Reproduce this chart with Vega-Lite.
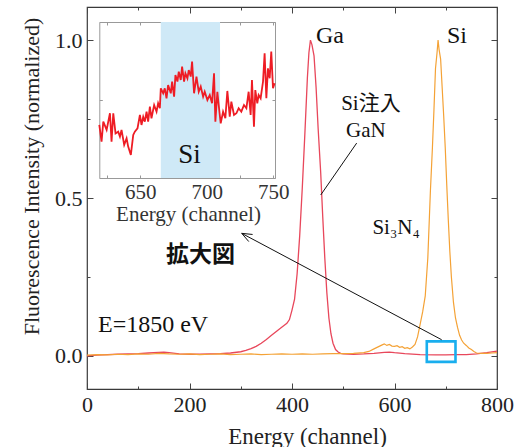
{
  "$schema": "https://vega.github.io/schema/vega-lite/v6.json",
  "width": 410,
  "height": 382,
  "autosize": {"type": "none"},
  "padding": {"left": 87, "top": 7, "right": 28, "bottom": 58},
  "background": "white",
  "config": {
    "font": "Liberation Serif",
    "view": {"stroke": "#3a3a3a", "strokeWidth": 1.2},
    "axis": {"grid": false, "domain": false, "labelFlush": false, "tickColor": "#444", "tickWidth": 1, "labelColor": "#222", "titleColor": "#222", "labelFont": "Liberation Serif", "titleFont": "Liberation Serif", "titleFontWeight": "normal"}
  },
  "datasets": {
    "gan": [
      {"ch": 0, "v": 0.0}, {"ch": 20, "v": 0.002}, {"ch": 40, "v": 0.004}, {"ch": 60, "v": 0.005}, {"ch": 80, "v": 0.006},
      {"ch": 100, "v": 0.007}, {"ch": 120, "v": 0.009}, {"ch": 140, "v": 0.011}, {"ch": 150, "v": 0.012}, {"ch": 160, "v": 0.010},
      {"ch": 180, "v": 0.006}, {"ch": 200, "v": 0.005}, {"ch": 220, "v": 0.005}, {"ch": 240, "v": 0.006}, {"ch": 260, "v": 0.007},
      {"ch": 280, "v": 0.009}, {"ch": 300, "v": 0.013}, {"ch": 310, "v": 0.017}, {"ch": 320, "v": 0.023}, {"ch": 330, "v": 0.030},
      {"ch": 340, "v": 0.040}, {"ch": 350, "v": 0.052}, {"ch": 360, "v": 0.065}, {"ch": 370, "v": 0.078}, {"ch": 378, "v": 0.088},
      {"ch": 385, "v": 0.097}, {"ch": 390, "v": 0.103}, {"ch": 395, "v": 0.115}, {"ch": 400, "v": 0.145}, {"ch": 405, "v": 0.18},
      {"ch": 410, "v": 0.26}, {"ch": 415, "v": 0.38}, {"ch": 420, "v": 0.53}, {"ch": 425, "v": 0.70}, {"ch": 430, "v": 0.88},
      {"ch": 433, "v": 0.96}, {"ch": 436, "v": 1.0}, {"ch": 439, "v": 0.985}, {"ch": 443, "v": 0.95}, {"ch": 447, "v": 0.85},
      {"ch": 451, "v": 0.72}, {"ch": 456, "v": 0.58}, {"ch": 460, "v": 0.44}, {"ch": 464, "v": 0.31}, {"ch": 468, "v": 0.20},
      {"ch": 472, "v": 0.12}, {"ch": 476, "v": 0.07}, {"ch": 480, "v": 0.04}, {"ch": 485, "v": 0.02}, {"ch": 490, "v": 0.012},
      {"ch": 495, "v": 0.008}, {"ch": 500, "v": 0.006}, {"ch": 520, "v": 0.005}, {"ch": 540, "v": 0.006}, {"ch": 560, "v": 0.008},
      {"ch": 580, "v": 0.011}, {"ch": 590, "v": 0.012}, {"ch": 600, "v": 0.010}, {"ch": 620, "v": 0.007}, {"ch": 650, "v": 0.004},
      {"ch": 680, "v": 0.003}, {"ch": 700, "v": 0.003}, {"ch": 720, "v": 0.004}, {"ch": 740, "v": 0.004}, {"ch": 760, "v": 0.006},
      {"ch": 780, "v": 0.010}, {"ch": 800, "v": 0.015}
    ],
    "si3n4": [
      {"ch": 0, "v": 0.002}, {"ch": 20, "v": 0.004}, {"ch": 40, "v": 0.003}, {"ch": 60, "v": 0.005}, {"ch": 80, "v": 0.004},
      {"ch": 100, "v": 0.006}, {"ch": 120, "v": 0.005}, {"ch": 140, "v": 0.008}, {"ch": 160, "v": 0.006}, {"ch": 180, "v": 0.005},
      {"ch": 200, "v": 0.006}, {"ch": 220, "v": 0.004}, {"ch": 240, "v": 0.005}, {"ch": 260, "v": 0.006}, {"ch": 280, "v": 0.004},
      {"ch": 300, "v": 0.005}, {"ch": 320, "v": 0.006}, {"ch": 340, "v": 0.004}, {"ch": 360, "v": 0.005}, {"ch": 380, "v": 0.006},
      {"ch": 400, "v": 0.005}, {"ch": 420, "v": 0.006}, {"ch": 440, "v": 0.005}, {"ch": 460, "v": 0.006}, {"ch": 480, "v": 0.007},
      {"ch": 500, "v": 0.007}, {"ch": 520, "v": 0.008}, {"ch": 540, "v": 0.010}, {"ch": 550, "v": 0.014}, {"ch": 560, "v": 0.022},
      {"ch": 570, "v": 0.030}, {"ch": 575, "v": 0.034}, {"ch": 580, "v": 0.038}, {"ch": 585, "v": 0.033}, {"ch": 590, "v": 0.036},
      {"ch": 595, "v": 0.031}, {"ch": 600, "v": 0.030}, {"ch": 605, "v": 0.032}, {"ch": 610, "v": 0.027}, {"ch": 615, "v": 0.029},
      {"ch": 620, "v": 0.024}, {"ch": 625, "v": 0.026}, {"ch": 630, "v": 0.022}, {"ch": 635, "v": 0.028}, {"ch": 640, "v": 0.036},
      {"ch": 645, "v": 0.06}, {"ch": 650, "v": 0.10}, {"ch": 655, "v": 0.14}, {"ch": 660, "v": 0.19}, {"ch": 665, "v": 0.31},
      {"ch": 670, "v": 0.52}, {"ch": 674, "v": 0.66}, {"ch": 677, "v": 0.78}, {"ch": 680, "v": 0.91}, {"ch": 683, "v": 0.96},
      {"ch": 685, "v": 1.0}, {"ch": 687, "v": 0.97}, {"ch": 690, "v": 0.94}, {"ch": 693, "v": 0.85}, {"ch": 696, "v": 0.76},
      {"ch": 699, "v": 0.66}, {"ch": 702, "v": 0.54}, {"ch": 705, "v": 0.43}, {"ch": 708, "v": 0.33}, {"ch": 711, "v": 0.25},
      {"ch": 715, "v": 0.17}, {"ch": 719, "v": 0.12}, {"ch": 723, "v": 0.09}, {"ch": 727, "v": 0.065}, {"ch": 731, "v": 0.05},
      {"ch": 735, "v": 0.04}, {"ch": 740, "v": 0.033}, {"ch": 745, "v": 0.025}, {"ch": 750, "v": 0.02}, {"ch": 755, "v": 0.014},
      {"ch": 760, "v": 0.009}, {"ch": 770, "v": 0.008}, {"ch": 780, "v": 0.008}, {"ch": 790, "v": 0.009}, {"ch": 800, "v": 0.010}
    ],
    "zoom": [
      {"ch": 619.3, "v": 0.340}, {"ch": 621, "v": 0.233}, {"ch": 622.3, "v": 0.361}, {"ch": 624.8, "v": 0.308}, {"ch": 627.3, "v": 0.415},
      {"ch": 628.5, "v": 0.233}, {"ch": 629.8, "v": 0.415}, {"ch": 631.5, "v": 0.286}, {"ch": 633.5, "v": 0.297}, {"ch": 634.8, "v": 0.265},
      {"ch": 636, "v": 0.308}, {"ch": 638, "v": 0.212}, {"ch": 639.8, "v": 0.254}, {"ch": 641, "v": 0.201}, {"ch": 643, "v": 0.148},
      {"ch": 644.8, "v": 0.276}, {"ch": 646, "v": 0.297}, {"ch": 648, "v": 0.318}, {"ch": 649.8, "v": 0.404}, {"ch": 651, "v": 0.340},
      {"ch": 652.3, "v": 0.393}, {"ch": 653.5, "v": 0.361}, {"ch": 654.8, "v": 0.425}, {"ch": 656, "v": 0.361}, {"ch": 657.3, "v": 0.457},
      {"ch": 658.5, "v": 0.383}, {"ch": 660.5, "v": 0.468}, {"ch": 662.3, "v": 0.425}, {"ch": 663.5, "v": 0.479}, {"ch": 664.8, "v": 0.447},
      {"ch": 665.5, "v": 0.575}, {"ch": 667.3, "v": 0.543}, {"ch": 668.5, "v": 0.575}, {"ch": 669.8, "v": 0.511}, {"ch": 671, "v": 0.596},
      {"ch": 673, "v": 0.543}, {"ch": 674, "v": 0.618}, {"ch": 675.5, "v": 0.521}, {"ch": 676.5, "v": 0.660}, {"ch": 678, "v": 0.618},
      {"ch": 679, "v": 0.682}, {"ch": 680.5, "v": 0.628}, {"ch": 681.5, "v": 0.714}, {"ch": 683, "v": 0.618}, {"ch": 684, "v": 0.671},
      {"ch": 685.5, "v": 0.639}, {"ch": 686.5, "v": 0.692}, {"ch": 688, "v": 0.650}, {"ch": 689, "v": 0.746}, {"ch": 690.5, "v": 0.543},
      {"ch": 692.3, "v": 0.650}, {"ch": 694, "v": 0.553}, {"ch": 695.5, "v": 0.586}, {"ch": 697.3, "v": 0.521}, {"ch": 698.5, "v": 0.553},
      {"ch": 700.5, "v": 0.500}, {"ch": 702.3, "v": 0.532}, {"ch": 704, "v": 0.479}, {"ch": 705.5, "v": 0.671}, {"ch": 706.5, "v": 0.361},
      {"ch": 708, "v": 0.553}, {"ch": 709, "v": 0.468}, {"ch": 710.5, "v": 0.350}, {"ch": 712.3, "v": 0.425}, {"ch": 714, "v": 0.383},
      {"ch": 715.5, "v": 0.558}, {"ch": 717.3, "v": 0.393}, {"ch": 718.5, "v": 0.489}, {"ch": 720.5, "v": 0.404}, {"ch": 722.3, "v": 0.415},
      {"ch": 724, "v": 0.447}, {"ch": 726, "v": 0.425}, {"ch": 728, "v": 0.468}, {"ch": 729.8, "v": 0.447}, {"ch": 731.5, "v": 0.553},
      {"ch": 733, "v": 0.404}, {"ch": 734, "v": 0.628}, {"ch": 735.5, "v": 0.329}, {"ch": 736.5, "v": 0.564}, {"ch": 738, "v": 0.479},
      {"ch": 739, "v": 0.532}, {"ch": 740.5, "v": 0.511}, {"ch": 742.3, "v": 0.618}, {"ch": 743.5, "v": 0.799}, {"ch": 744.8, "v": 0.511},
      {"ch": 746, "v": 0.703}, {"ch": 747.3, "v": 0.639}, {"ch": 748.5, "v": 0.810}, {"ch": 749.8, "v": 0.575}, {"ch": 751, "v": 0.607}
    ]
  },
  "layer": [
    {
      "layer": [
        {
          "data": {"name": "gan"},
          "mark": {"type": "line", "color": "#e8475b", "strokeWidth": 1.3},
          "encoding": {
            "x": {"field": "ch", "type": "quantitative", "scale": {"domain": [0, 800], "nice": false, "zero": false},
              "axis": {"orient": "bottom", "values": [0, 200, 400, 600, 800], "tickSize": -6, "labelPadding": 11, "labelFontSize": 22, "labelFlush": false, "format": "d",
                "title": "Energy (channel)", "titleFontSize": 23, "titleBaseline": "alphabetic", "titleX": 220, "titleY": 54}},
            "y": {"field": "v", "type": "quantitative", "scale": {"domain": [-0.105, 1.105], "nice": false, "zero": false},
              "axis": {"orient": "left", "values": [0, 0.5, 1], "format": ".1f", "tickSize": -6, "labelPadding": 11, "labelFontSize": 22,
                "title": "Fluorescence Intensity (normalized)", "titleFontSize": 22, "titleBaseline": "alphabetic", "titleAngle": 270, "titleX": -49, "titleY": 169}}
          }
        },
        {
          "data": {"name": "si3n4"},
          "mark": {"type": "line", "color": "#f4a236", "strokeWidth": 1.2},
          "encoding": {
            "x": {"field": "ch", "type": "quantitative", "axis": {"orient": "top", "values": [0, 200, 400, 600, 800], "tickSize": -6, "labels": false, "title": null}},
            "y": {"field": "v", "type": "quantitative", "axis": {"orient": "right", "values": [0, 0.5, 1], "tickSize": -6, "labels": false, "title": null}}
          }
        },
        {
          "data": {"values": [{"x1": 663, "x2": 719, "y1": -0.019, "y2": 0.046}]},
          "mark": {"type": "rect", "fill": null, "filled": false, "stroke": "#19aeee", "strokeWidth": 2.6},
          "encoding": {
            "x": {"field": "x1", "type": "quantitative", "axis": {"orient": "bottom", "values": [100, 300, 500, 700], "tickSize": -3, "labels": false, "title": null}},
            "x2": {"field": "x2"},
            "y": {"field": "y1", "type": "quantitative", "axis": {"orient": "left", "values": [0.25, 0.75], "tickSize": -3, "labels": false, "title": null}},
            "y2": {"field": "y2"}
          }
        },
        {
          "data": {"values": [
            {"x1": 526.2, "y1": 0.674, "x2": 456, "y2": 0.5095},
            {"x1": 692.1, "y1": 0.051, "x2": 301.9, "y2": 0.388},
            {"x1": 301.9, "y1": 0.388, "x2": 315.7, "y2": 0.362},
            {"x1": 301.9, "y1": 0.388, "x2": 323.1, "y2": 0.3845}
          ]},
          "mark": {"type": "rule", "color": "#111", "strokeWidth": 1},
          "encoding": {
            "x": {"field": "x1", "type": "quantitative", "axis": {"orient": "top", "values": [100, 300, 500, 700], "tickSize": -3, "labels": false, "title": null}},
            "x2": {"field": "x2"},
            "y": {"field": "y1", "type": "quantitative", "axis": {"orient": "right", "values": [0.25, 0.75], "tickSize": -3, "labels": false, "title": null}},
            "y2": {"field": "y2"}
          }
        },
        {
          "data": {"values": [
            {"ch": 474, "v": 0.99, "label": "Ga"},
            {"ch": 722, "v": 0.99, "label": "Si"}
          ]},
          "mark": {"type": "text", "font": "Liberation Serif", "fontSize": 24, "align": "center", "baseline": "alphabetic", "color": "#111"},
          "encoding": {
            "x": {"field": "ch", "type": "quantitative", "axis": null},
            "y": {"field": "v", "type": "quantitative", "axis": null},
            "text": {"field": "label"}
          }
        },
        {
          "data": {"values": [
            {"ch": 554, "v": 0.778, "label": "Si注入"},
            {"ch": 544, "v": 0.693, "label": "GaN"},
            {"ch": 603, "v": 0.386, "label": "Si₃N₄"}
          ]},
          "mark": {"type": "text", "font": "Liberation Serif, Noto Sans CJK JP", "fontSize": 21, "align": "center", "baseline": "alphabetic", "color": "#111"},
          "encoding": {
            "x": {"field": "ch", "type": "quantitative", "axis": null},
            "y": {"field": "v", "type": "quantitative", "axis": null},
            "text": {"field": "label"}
          }
        },
        {
          "data": {"values": [{"ch": 221.5, "v": 0.297, "label": "拡大図"}]},
          "mark": {"type": "text", "font": "Noto Sans CJK JP", "fontWeight": "bold", "fontSize": 23, "align": "center", "baseline": "alphabetic", "color": "#111"},
          "encoding": {
            "x": {"field": "ch", "type": "quantitative", "axis": null},
            "y": {"field": "v", "type": "quantitative", "axis": null},
            "text": {"field": "label"}
          }
        },
        {
          "data": {"values": [{"ch": 21.5, "v": 0.076, "label": "E=1850 eV"}]},
          "mark": {"type": "text", "font": "Liberation Serif", "fontSize": 24, "align": "left", "baseline": "alphabetic", "color": "#111"},
          "encoding": {
            "x": {"field": "ch", "type": "quantitative", "axis": null},
            "y": {"field": "v", "type": "quantitative", "axis": null},
            "text": {"field": "label"}
          }
        }
      ],
      "resolve": {"axis": {"x": "independent", "y": "independent"}}
    },
    {
      "layer": [
        {
          "data": {"values": [{"x1": 665.5, "x2": 710, "y1": 0, "y2": 1}]},
          "mark": {"type": "rect", "color": "#cfe9f7"},
          "encoding": {
            "x": {"field": "x1", "type": "quantitative", "scale": {"domain": [619.3, 751.3], "range": [12.3, 188], "nice": false, "zero": false},
              "axis": {"orient": "bottom", "offset": -211, "values": [625, 650, 675, 700, 725, 750], "labelExpr": "datum.value % 50 === 0 ? datum.label : ''",
                "domain": true, "domainColor": "#999", "tickColor": "#999", "tickSize": -3, "labelPadding": 6, "labelFontSize": 21, "labelColor": "#333", "labelFlush": false,
                "title": "Energy (channel)", "titleFontSize": 21, "titleColor": "#333", "titleBaseline": "alphabetic", "titleX": 101, "titleY": 42}},
            "x2": {"field": "x2"},
            "y": {"field": "y1", "type": "quantitative", "scale": {"domain": [0, 1], "range": [171, 15], "nice": false, "zero": false},
              "axis": {"orient": "left", "offset": -12.3, "values": [0, 0.5, 1], "domain": true, "domainColor": "#999", "tickColor": "#999", "tickSize": -3, "labels": false, "title": null}},
            "y2": {"field": "y2"}
          }
        },
        {
          "data": {"name": "zoom"},
          "mark": {"type": "line", "color": "#ee1c24", "strokeWidth": 1.8},
          "encoding": {
            "x": {"field": "ch", "type": "quantitative",
              "axis": {"orient": "top", "offset": -15, "values": [625, 650, 675, 700, 725, 750], "domain": true, "domainColor": "#999", "tickColor": "#999", "tickSize": -3, "labels": false, "title": null}},
            "y": {"field": "v", "type": "quantitative",
              "axis": {"orient": "right", "offset": -222, "values": [0, 0.5, 1], "domain": true, "domainColor": "#999", "tickColor": "#999", "tickSize": -3, "labels": false, "title": null}}
          }
        },
        {
          "data": {"values": [{"ch": 687, "v": 0.094, "label": "Si"}]},
          "mark": {"type": "text", "font": "Liberation Serif", "fontSize": 27, "align": "center", "baseline": "alphabetic", "color": "#111"},
          "encoding": {
            "x": {"field": "ch", "type": "quantitative", "axis": null},
            "y": {"field": "v", "type": "quantitative", "axis": null},
            "text": {"field": "label"}
          }
        }
      ],
      "resolve": {"axis": {"x": "independent", "y": "independent"}}
    }
  ],
  "resolve": {"scale": {"x": "independent", "y": "independent"}, "axis": {"x": "independent", "y": "independent"}}
}
